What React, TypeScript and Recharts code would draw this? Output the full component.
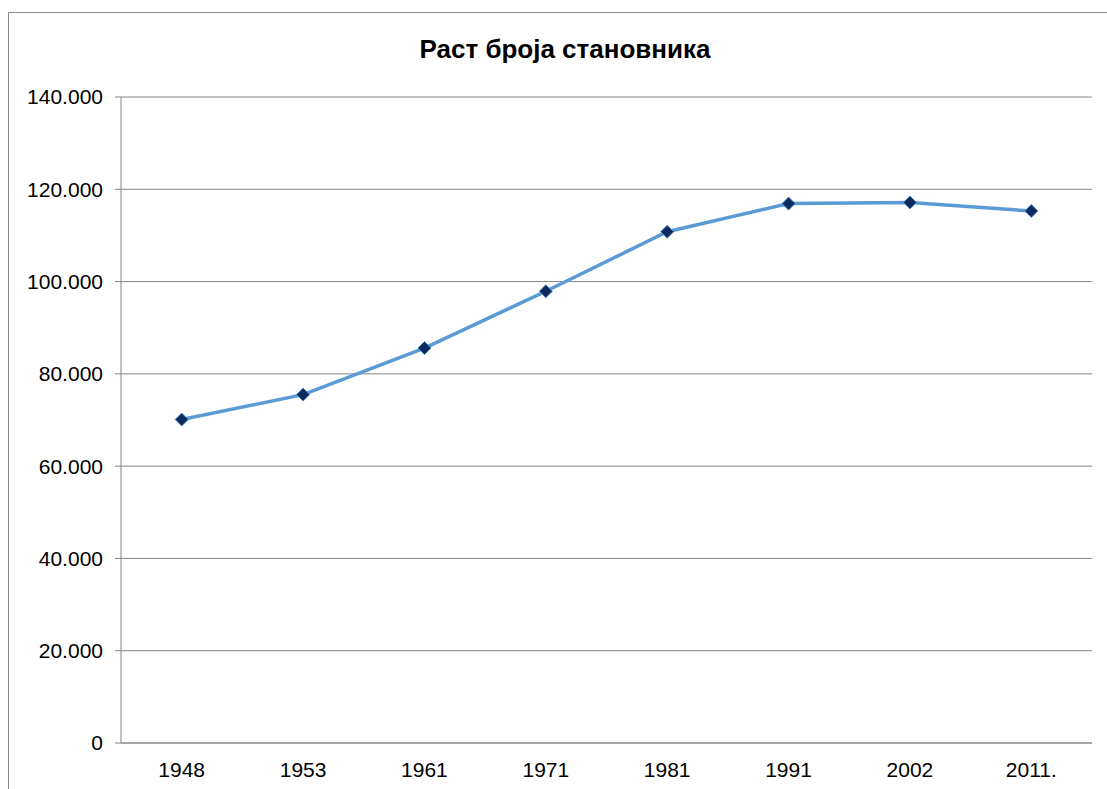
import React from "react";
import { LineChart, Line, XAxis, YAxis, CartesianGrid } from "recharts";

const years = ["1948", "1953", "1961", "1971", "1981", "1991", "2002", "2011."];
const population = [70100, 75500, 85600, 97900, 110800, 116900, 117150, 115300];
const yTicks = [0, 20000, 40000, 60000, 80000, 100000, 120000, 140000];

const data = years.map((y, i) => ({ year: y, value: population[i] }));

const fmt = (v: number) => {
  if (v === 0) return "0";
  const th = Math.floor(v / 1000);
  return `${th}.000`;
};

const Diamond = (props: any) => {
  const { cx, cy } = props;
  if (cx == null || cy == null) return null;
  const r = 6.5;
  return (
    <path
      d={`M${cx},${cy - r} L${cx + r},${cy} L${cx},${cy + r} L${cx - r},${cy} Z`}
      fill="#0b2a5e"
      stroke="#4f86c6"
      strokeWidth={1}
    />
  );
};

const FONT = "'Liberation Sans', Arial, sans-serif";

export default function App() {
  return (
    <div style={{ position: "relative", width: 1107, height: 789, overflow: "hidden", background: "#fff" }}>
      <style>{"body{margin:0;overflow:hidden;}"}</style>
      <div
        style={{
          position: "absolute",
          left: 8,
          top: 12,
          width: 1200,
          height: 900,
          borderTop: "1px solid #8c8c8c",
          borderLeft: "1px solid #8c8c8c",
        }}
      />
      <div
        style={{
          position: "absolute",
          left: 0,
          width: 1130,
          top: 34,
          lineHeight: "30px",
          textAlign: "center",
          fontFamily: FONT,
          fontWeight: "bold",
          fontSize: 26,
          color: "#000",
        }}
      >
        Раст броја становника
      </div>
      <div style={{ position: "absolute", left: 0, top: 0 }}>
        <LineChart
          width={1107}
          height={789}
          data={data}
          margin={{ top: 97, right: 15, bottom: 0, left: 0 }}
        >
          <CartesianGrid vertical={false} stroke="#868686" strokeWidth={1} />
          <XAxis
            dataKey="year"
            axisLine={{ stroke: "#868686" }}
            tickLine={false}
            tickSize={0}
            tickMargin={19}
            padding={{ left: 60.7, right: 60.7 }}
            tick={{ fill: "#000", fontSize: 21, fontFamily: FONT }}
            interval={0}
            height={46}
          />
          <YAxis
            domain={[0, 140000]}
            ticks={yTicks}
            tickFormatter={fmt}
            width={121}
            axisLine={{ stroke: "#868686" }}
            tickLine={{ stroke: "#868686" }}
            tickSize={6}
            tickMargin={12}
            tick={{ fill: "#000", fontSize: 21, fontFamily: FONT }}
            interval={0}
          />
          <Line
            type="linear"
            dataKey="value"
            stroke="#5b9bd5"
            strokeWidth={3.5}
            dot={<Diamond />}
            activeDot={false}
            isAnimationActive={false}
          />
        </LineChart>
      </div>
    </div>
  );
}
